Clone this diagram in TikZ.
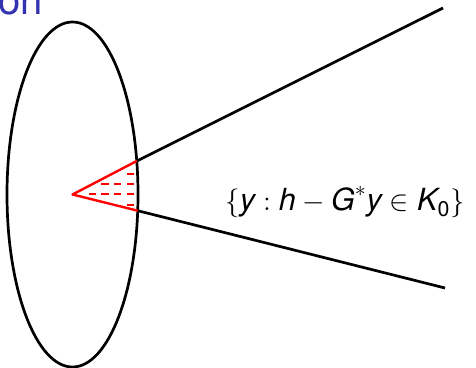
\documentclass[tikz,border=0pt]{standalone}
\usepackage{amsmath, amssymb}
\usepackage{xcolor}
\usepackage{fontspec}
\usepackage{tikz}
\usetikzlibrary{positioning}
\newfontfamily\hvfont{TeX Gyre Heros}
\newcommand{\mv}[1]{\text{\hvfont\itshape #1}}
\definecolor{titleblue}{rgb}{0.2,0.2,0.7}

\begin{document}
\begin{tikzpicture}[
  x=0.5pt, y=-0.5pt,
  body/.style={line width=1.35pt, black},
  cone/.style={line width=1.2pt, red, line join=round},
  hatch/.style={line width=1pt, red, dash pattern=on 3.6pt off 2.75pt},
  lab/.style={inner sep=0pt, font=\fontsize{15.25}{18}\selectfont}
]
\clip (0,0) rectangle (476,368);
\node[anchor=base west, inner sep=0pt, text=titleblue,
  font=\hvfont\fontsize{20}{24}\selectfont] (title) at (-2,15) {on};
\coordinate (O) at (72.5,194.5);
\coordinate (P) at (136.8,161);
\coordinate (Q) at (137.7,210.7);
\coordinate (U) at (443,8);
\coordinate (L) at (445,288);
\draw[body] (O) ellipse [x radius=65.5, y radius=172.5];
\draw[body] (P) -- (U);
\draw[body] (Q) -- (L);
\draw[cone] (P) -- (O) -- (Q);
\draw[hatch] (134,174) -- (126,174);
\draw[hatch] (134,184) -- (101,184);
\draw[hatch] (134,194.5) -- (88,194.5);
\draw[hatch] (134,205) -- (126,205);
\node[lab, anchor=base west] (set) at (225,211)
  {$\{\mv{y} : \mv{h} - \mv{G}^{*}\mv{y} \in \mv{K}_{\text{\hvfont 0}}\}$};
\end{tikzpicture}
\end{document}
